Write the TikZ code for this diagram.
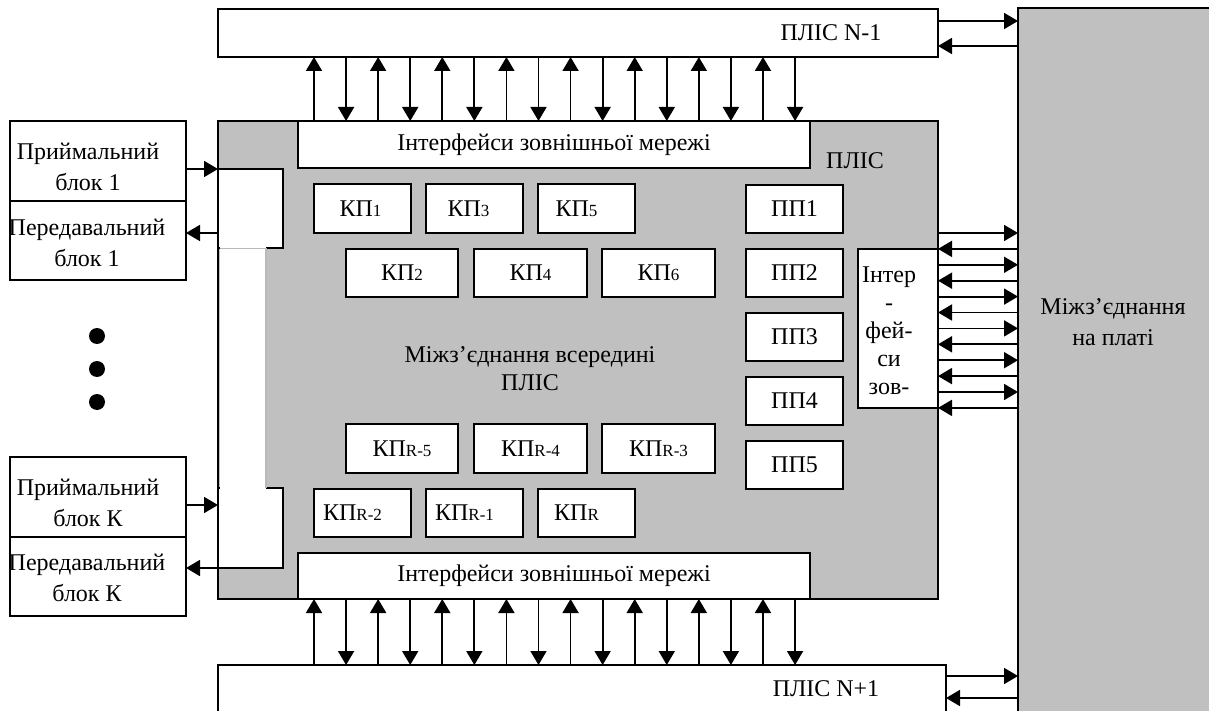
\documentclass[tikz,border=0pt]{standalone}
\usepackage{fontspec}
\setmainfont{Liberation Serif}
\usetikzlibrary{arrows.meta,calc}
\definecolor{plisgray}{HTML}{C0C0C0}
\newcommand{\kpidx}[1]{{\fontsize{8.5}{8.5}\selectfont #1}}

\begin{document}
\begin{tikzpicture}[x=0.5pt, y=-0.5pt,
    font=\fontsize{12}{14}\selectfont,
    sz/.style 2 args={minimum width=#1*0.5pt, minimum height=#2*0.5pt},
    blk/.style={draw, fill=white, line width=1pt, inner sep=0pt, outer sep=0pt},
    gblk/.style={blk, fill=plisgray},
    arr/.style={-{Triangle[length=7pt, width=8pt]}, line width=0.9pt},
    lbl/.style={inner sep=0pt, align=center},
    twoline/.style={lbl, font=\fontsize{12}{15.5}\selectfont}
]
  \useasboundingbox (0,0) rectangle (1209,711);
  \clip (0,0) rectangle (1209,711);

  % Board interconnect and neighbour chips
  \node[gblk, sz={197}{712}] (board) at (1116.5,364) {};
  \node[blk, sz={720}{48}] (nm1) at (578,33) {};
  \node[blk, sz={728}{56}] (np1) at (582,693) {};
  \node[lbl] (nm1lbl) at (831,33) {ПЛІС N-1};
  \node[lbl] (np1lbl) at (826,689) {ПЛІС N+1};
  \node[twoline] (boardlbl) at (1113,322) {Міжз’єднання\\на платі};

  % Main chip
  \node[gblk, sz={720}{478}] (fpga) at (578,360) {};
  \node[lbl] (plis) at (855,161) {ПЛІС};
  \node[lbl] (inner) at (530,369) {Міжз’єднання всередині\\ПЛІС};

  % External network interfaces
  \node[blk, sz={512}{47}] (topif) at (554,144.5) {Інтерфейси зовнішньої мережі};
  \node[blk, sz={512}{46}] (botif) at (554,576) {Інтерфейси зовнішньої мережі};

  % Receive / transmit blocks
  \node[blk, sz={176}{80}] (rx1) at (98,161) {};
  \node[blk, sz={176}{79}] (tx1) at (98,240.5) {};
  \node[blk, sz={176}{80}] (rxK) at (98,497) {};
  \node[blk, sz={176}{79}] (txK) at (98,576.5) {};
  \node[twoline] (rx1lbl) at (88,167) {Приймальний\\блок 1};
  \node[twoline] (tx1lbl) at (87,242.5) {Передавальний\\блок 1};
  \node[twoline] (rxKlbl) at (88,502.5) {Приймальний\\блок К};
  \node[twoline] (txKlbl) at (87,577.5) {Передавальний\\блок К};
  \foreach \y [count=\k] in {336,369,402}
    \node[circle, fill, inner sep=0pt, minimum size=8pt] (dot\k) at (97,\y) {};

  % Port blocks on the left edge
  \node[blk, sz={65}{79}] (in1) at (250.5,208.5) {};
  \node[blk, sz={65}{80}] (inK) at (250.5,528) {};
  \fill[white] (219.5,247) rectangle (266,489);
  \draw[gray!55, line width=0.6pt] (219.5,248.5) -- (266,248.5) -- (266,488);

  % Switching nodes
  \node[blk, sz={97}{49}] (kp1) at (362.5,208.5) {КП\kpidx{1}\kern2pt};
  \node[blk, sz={97}{49}] (kp3) at (474.5,208.5) {КП\kpidx{3}\kern6pt};
  \node[blk, sz={97}{49}] (kp5) at (586.5,208.5) {КП\kpidx{5}\kern10pt};
  \node[blk, sz={112}{48}] (kp2) at (402,273) {КП\kpidx{2}};
  \node[blk, sz={113}{48}] (kp4) at (530.5,273) {КП\kpidx{4}};
  \node[blk, sz={113}{48}] (kp6) at (658.5,273) {КП\kpidx{6}};
  \node[blk, sz={112}{49}] (kpr5) at (402,448.5) {КП\kpidx{R-5}};
  \node[blk, sz={113}{49}] (kpr4) at (530.5,448.5) {КП\kpidx{R-4}};
  \node[blk, sz={113}{49}] (kpr3) at (658.5,448.5) {КП\kpidx{R-3}};
  \node[blk, sz={97}{48}] (kpr2) at (362.5,513) {КП\kpidx{R-2}\kern10pt};
  \node[blk, sz={97}{48}] (kpr1) at (474.5,513) {КП\kpidx{R-1}\kern10pt};
  \node[blk, sz={97}{48}] (kpr) at (586.5,513) {КП\kpidx{R}\kern10pt};

  % Port processors
  \foreach \i/\y in {1/209,2/273,3/337,4/401,5/465}
    \node[blk, sz={97}{48}] (pp\i) at (794.5,\y) {ПП\i};

  % Interface to the board
  \node[blk, sz={80}{159}] (ifr) at (898,328.5) {};
  \node[lbl, font=\fontsize{12}{14}\selectfont] (ifrlbl) at (889,331)
    {Інтер\\-\\фей-\\си\\зов-};

  % Links to neighbour chips
  \foreach \i in {0,2,...,14} {
    \coordinate (v) at ({314+32.07*\i},0);
    \draw[arr] (topif.north -| v) -- (nm1.south -| v);
    \draw[arr] (np1.north -| v) -- (botif.south -| v);
  }
  \foreach \i in {1,3,...,15} {
    \coordinate (v) at ({314+32.07*\i},0);
    \draw[arr] (nm1.south -| v) -- (topif.north -| v);
    \draw[arr] (botif.south -| v) -- (np1.north -| v);
  }

  % Links to the board
  \foreach \i in {0,2,...,10} {
    \coordinate (h) at (0,{233+15.9*\i});
    \draw[arr] (fpga.east |- h) -- (board.west |- h);
  }
  \foreach \i in {1,3,...,11} {
    \coordinate (h) at (0,{233+15.9*\i});
    \draw[arr] (board.west |- h) -- (fpga.east |- h);
  }
  \coordinate (a1) at ($(nm1.east)+(0,-12)$);
  \coordinate (a2) at ($(nm1.east)+(0,13)$);
  \draw[arr] (a1) -- (a1 -| board.west);
  \draw[arr] (a2 -| board.west) -- (a2);
  \coordinate (b1) at ($(np1.east)+(0,-17)$);
  \coordinate (b2) at ($(np1.east)+(0,5)$);
  \draw[arr] (b1) -- (b1 -| board.west);
  \draw[arr] (b2 -| board.west) -- (b2);

  % Links to receive / transmit blocks
  \draw[arr] (rx1.east |- in1.north west) -- (in1.north west);
  \coordinate (t1) at ($(in1.south west)+(0,-15)$);
  \draw[arr] (t1) -- (t1 -| tx1.east);
  \coordinate (rk) at ($(inK.north west)+(0,17)$);
  \draw[arr] (rk -| rxK.east) -- (rk);
  \draw[arr] (inK.south west) -- (inK.south west -| txK.east);
\end{tikzpicture}
\end{document}
